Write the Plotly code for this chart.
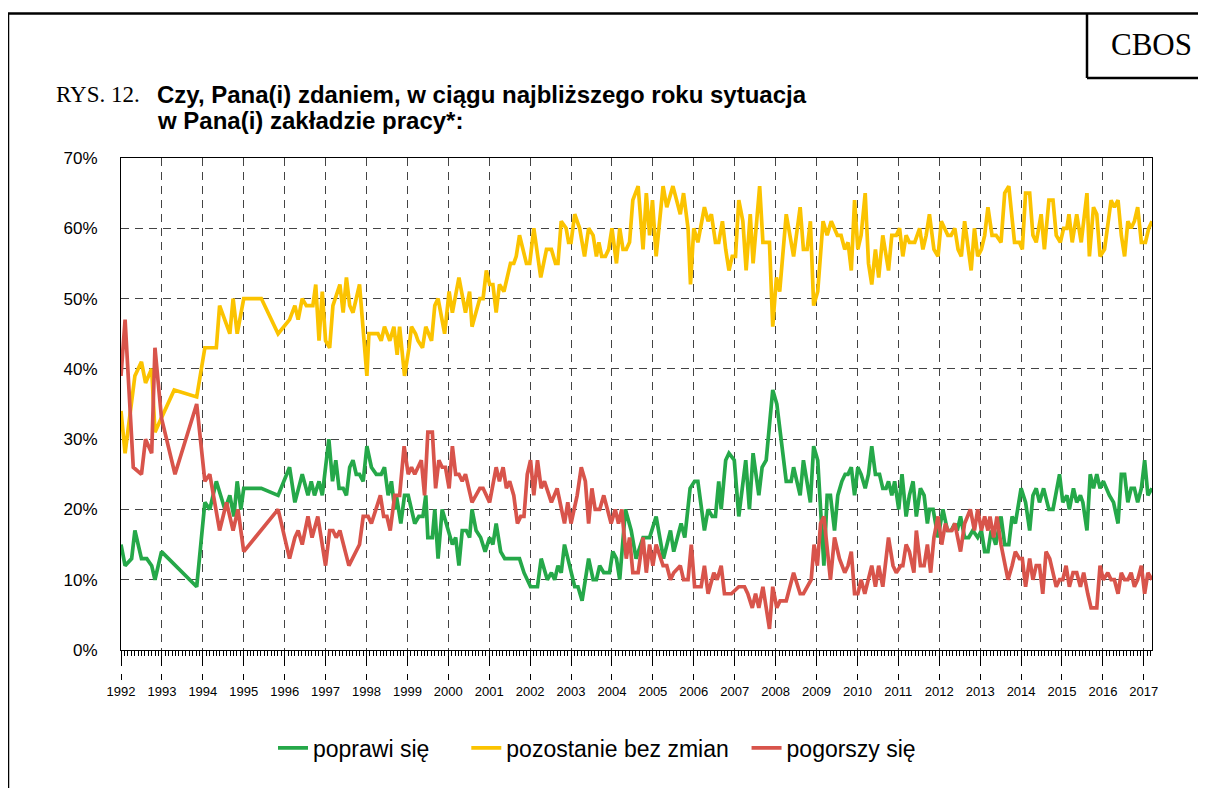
import plotly.graph_objects as go

# --- data (decimal year, % of answers) ---
poprawi_x = [1992.0, 1992.1, 1992.26, 1992.34, 1992.5, 1992.63, 1992.75, 1992.83, 1992.99, 1993.85,
             1994.05, 1994.17, 1994.33, 1994.54, 1994.66, 1994.76, 1994.84, 1994.93, 1995.0, 1995.43,
             1995.84, 1996.12, 1996.25, 1996.43, 1996.57, 1996.65, 1996.73, 1996.84, 1996.92, 1997.08,
             1997.17, 1997.25, 1997.33, 1997.43, 1997.51, 1997.59, 1997.67, 1997.75, 1997.83, 1997.92,
             1998.01, 1998.12, 1998.24, 1998.36, 1998.44, 1998.53, 1998.61, 1998.69, 1998.73, 1998.84,
             1998.93, 1999.02, 1999.18, 1999.28, 1999.38, 1999.45, 1999.5, 1999.61, 1999.67, 1999.75,
             1999.85, 1999.99, 2000.1, 2000.18, 2000.26, 2000.34, 2000.44, 2000.52, 2000.58, 2000.68,
             2000.79, 2000.9, 2001.01, 2001.09, 2001.17, 2001.28, 2001.38, 2001.74, 2001.85, 2002.01,
             2002.18, 2002.27, 2002.42, 2002.52, 2002.6, 2002.68, 2002.76, 2002.84, 2003.09, 2003.17,
             2003.27, 2003.43, 2003.54, 2003.62, 2003.7, 2003.8, 2003.94, 2004.02, 2004.11, 2004.19,
             2004.33, 2004.47, 2004.59, 2004.76, 2004.92, 2005.08, 2005.26, 2005.43, 2005.51, 2005.69,
             2005.78, 2005.91, 2006.02, 2006.1, 2006.26, 2006.35, 2006.45, 2006.53, 2006.61, 2006.67,
             2006.78, 2006.86, 2006.99, 2007.1, 2007.27, 2007.36, 2007.45, 2007.59, 2007.67, 2007.77,
             2007.93, 2008.03, 2008.26, 2008.38, 2008.44, 2008.6, 2008.68, 2008.85, 2008.93, 2009.03,
             2009.1, 2009.18, 2009.26, 2009.34, 2009.44, 2009.52, 2009.62, 2009.7, 2009.77, 2009.85,
             2009.93, 2010.01, 2010.09, 2010.19, 2010.27, 2010.35, 2010.44, 2010.54, 2010.62, 2010.7,
             2010.76, 2010.84, 2010.91, 2011.01, 2011.09, 2011.19, 2011.27, 2011.36, 2011.44, 2011.54,
             2011.63, 2011.71, 2011.76, 2011.85, 2011.97, 2012.09, 2012.2, 2012.29, 2012.38, 2012.44,
             2012.52, 2012.62, 2012.72, 2012.82, 2012.94, 2013.03, 2013.11, 2013.19, 2013.27, 2013.38,
             2013.51, 2013.6, 2013.7, 2013.78, 2013.86, 2014.0, 2014.11, 2014.21, 2014.29, 2014.37,
             2014.45, 2014.55, 2014.68, 2014.78, 2014.94, 2015.02, 2015.12, 2015.18, 2015.28, 2015.36,
             2015.45, 2015.51, 2015.61, 2015.69, 2015.77, 2015.85, 2015.93, 2016.01, 2016.16, 2016.26,
             2016.37, 2016.45, 2016.53, 2016.61, 2016.69, 2016.77, 2016.85, 2016.94, 2017.02, 2017.1,
             2017.2]
poprawi_y = [15, 12, 13, 17, 13, 13, 12, 10, 14, 9,
             21, 20, 24, 20, 22, 19, 24, 20, 23, 23,
             22, 26, 21, 25, 22, 24, 22, 24, 22, 30,
             24, 27, 23, 23, 22, 26, 27, 25, 25, 24,
             29, 26, 25, 25, 26, 22, 24, 20, 22, 18,
             22, 22, 18, 19, 19, 22, 16, 16, 20, 13,
             20, 17, 15, 16, 12, 17, 17, 16, 20, 17,
             16, 14, 16, 15, 18, 14, 13, 13, 11, 9,
             9, 13, 10, 11, 10, 12, 11, 15, 9, 9,
             7, 13, 10, 10, 12, 11, 11, 14, 13, 10,
             20, 17, 13, 16, 16, 19, 13, 17, 14, 18,
             16, 23, 24, 24, 17, 20, 19, 19, 24, 20,
             27, 28, 27, 19, 27, 20, 28, 22, 26, 27,
             37, 35, 24, 24, 26, 22, 27, 21, 29, 27,
             19, 12, 22, 22, 17, 22, 24, 25, 25, 26,
             22, 26, 25, 23, 25, 29, 25, 25, 23, 23,
             24, 22, 24, 20, 25, 19, 22, 24, 19, 23,
             22, 18, 20, 20, 16, 20, 17, 17, 18, 17,
             19, 16, 16, 17, 16, 17, 14, 14, 17, 15,
             19, 15, 15, 19, 18, 23, 21, 17, 22, 23,
             21, 23, 20, 20, 25, 21, 22, 20, 23, 21,
             22, 21, 17, 25, 23, 25, 23, 24, 22, 21,
             18, 25, 25, 21, 23, 23, 21, 23, 27, 22,
             23]

bez_zmian_x = [1992.0, 1992.1, 1992.34, 1992.5, 1992.6, 1992.75, 1992.83, 1993.3, 1993.85, 1994.05,
               1994.33, 1994.41, 1994.66, 1994.74, 1994.84, 1995.0, 1995.43, 1995.84, 1996.12, 1996.25,
               1996.33, 1996.43, 1996.53, 1996.69, 1996.76, 1996.84, 1996.92, 1997.0, 1997.1, 1997.18,
               1997.35, 1997.43, 1997.51, 1997.59, 1997.67, 1997.83, 1998.01, 1998.06, 1998.28, 1998.36,
               1998.44, 1998.57, 1998.67, 1998.75, 1998.81, 1998.93, 1999.04, 1999.1, 1999.2, 1999.26,
               1999.37, 1999.45, 1999.59, 1999.67, 1999.75, 1999.91, 2000.02, 2000.1, 2000.26, 2000.42,
               2000.52, 2000.58, 2000.77, 2000.85, 2000.93, 2001.01, 2001.09, 2001.17, 2001.25, 2001.36,
               2001.52, 2001.6, 2001.66, 2001.74, 2001.91, 2001.99, 2002.09, 2002.26, 2002.4, 2002.52,
               2002.62, 2002.68, 2002.76, 2002.88, 2002.94, 2003.0, 2003.09, 2003.21, 2003.33, 2003.43,
               2003.54, 2003.62, 2003.68, 2003.75, 2003.84, 2003.92, 2004.0, 2004.11, 2004.19, 2004.27,
               2004.35, 2004.43, 2004.51, 2004.64, 2004.76, 2004.84, 2004.92, 2004.99, 2005.08, 2005.25,
               2005.34, 2005.49, 2005.67, 2005.75, 2005.86, 2005.92, 2006.0, 2006.1, 2006.26, 2006.35,
               2006.43, 2006.53, 2006.61, 2006.7, 2006.78, 2006.86, 2006.94, 2007.02, 2007.1, 2007.2,
               2007.28, 2007.38, 2007.45, 2007.61, 2007.69, 2007.85, 2007.93, 2008.02, 2008.1, 2008.26,
               2008.44, 2008.6, 2008.68, 2008.77, 2008.85, 2008.93, 2009.03, 2009.16, 2009.26, 2009.36,
               2009.51, 2009.6, 2009.69, 2009.77, 2009.85, 2009.93, 2010.01, 2010.09, 2010.19, 2010.27,
               2010.35, 2010.44, 2010.52, 2010.62, 2010.76, 2010.84, 2010.95, 2011.03, 2011.11, 2011.19,
               2011.27, 2011.4, 2011.52, 2011.6, 2011.68, 2011.76, 2011.87, 2011.97, 2012.05, 2012.13,
               2012.21, 2012.29, 2012.38, 2012.46, 2012.54, 2012.62, 2012.72, 2012.78, 2012.86, 2012.94,
               2013.03, 2013.11, 2013.19, 2013.29, 2013.39, 2013.51, 2013.6, 2013.7, 2013.84, 2013.96,
               2014.03, 2014.11, 2014.21, 2014.29, 2014.37, 2014.49, 2014.57, 2014.68, 2014.78, 2014.86,
               2014.96, 2015.04, 2015.12, 2015.17, 2015.25, 2015.36, 2015.47, 2015.61, 2015.67, 2015.77,
               2015.85, 2015.93, 2016.04, 2016.14, 2016.2, 2016.28, 2016.37, 2016.45, 2016.53, 2016.61,
               2016.69, 2016.77, 2016.85, 2016.94, 2017.04, 2017.12, 2017.2]
bez_zmian_y = [34, 28, 39, 41, 38, 40, 31, 37, 36, 43,
               43, 49, 45, 50, 45, 50, 50, 45, 47, 49,
               47, 50, 49, 49, 52, 44, 51, 44, 43, 49,
               52, 48, 53, 49, 48, 52, 39, 45, 45, 44,
               46, 44, 46, 42, 46, 39, 43, 46, 45, 44,
               43, 46, 44, 49, 50, 45, 51, 48, 53, 48,
               51, 46, 50, 50, 54, 52, 52, 48, 52, 51,
               55, 55, 56, 59, 55, 55, 60, 53, 57, 57,
               55, 55, 61, 60, 58, 58, 62, 60, 56, 60,
               59, 56, 58, 56, 56, 57, 60, 55, 60, 57,
               57, 58, 64, 66, 57, 65, 59, 64, 56, 66,
               63, 66, 62, 65, 60, 52, 60, 58, 63, 61,
               62, 58, 58, 61, 57, 54, 56, 56, 64, 61,
               54, 62, 55, 66, 58, 58, 46, 53, 51, 62,
               56, 63, 57, 57, 61, 49, 51, 61, 59, 61,
               59, 59, 57, 58, 54, 64, 57, 59, 65, 55,
               52, 57, 53, 59, 54, 59, 59, 60, 56, 59,
               58, 58, 60, 57, 59, 62, 57, 56, 61, 60,
               59, 59, 60, 57, 56, 61, 57, 54, 60, 56,
               57, 59, 63, 59, 59, 58, 65, 66, 58, 58,
               57, 65, 65, 59, 58, 62, 57, 64, 64, 59,
               58, 60, 60, 62, 58, 62, 58, 65, 56, 63,
               62, 56, 57, 62, 64, 63, 64, 59, 56, 61,
               60, 61, 63, 58, 58, 60, 61]

pogorszy_x = [1992.0, 1992.1, 1992.3, 1992.5, 1992.6, 1992.75, 1992.83, 1992.99, 1993.32, 1993.85,
              1994.05, 1994.17, 1994.41, 1994.58, 1994.74, 1994.86, 1995.0, 1995.84, 1996.12, 1996.25,
              1996.33, 1996.43, 1996.57, 1996.67, 1996.81, 1997.0, 1997.1, 1997.18, 1997.26, 1997.35,
              1997.57, 1997.83, 1997.92, 1998.04, 1998.12, 1998.24, 1998.34, 1998.42, 1998.5, 1998.58,
              1998.69, 1998.81, 1998.92, 1999.02, 1999.1, 1999.18, 1999.34, 1999.42, 1999.5, 1999.61,
              1999.69, 1999.77, 1999.85, 1999.93, 2000.02, 2000.1, 2000.18, 2000.26, 2000.34, 2000.42,
              2000.58, 2000.77, 2000.85, 2001.01, 2001.17, 2001.25, 2001.34, 2001.42, 2001.5, 2001.6,
              2001.69, 2001.77, 2001.85, 2001.93, 2002.01, 2002.09, 2002.18, 2002.27, 2002.35, 2002.52,
              2002.66, 2002.84, 2002.92, 2003.0, 2003.15, 2003.25, 2003.35, 2003.43, 2003.51, 2003.59,
              2003.7, 2003.8, 2003.98, 2004.08, 2004.16, 2004.24, 2004.35, 2004.43, 2004.51, 2004.64,
              2004.76, 2004.84, 2004.92, 2005.0, 2005.08, 2005.25, 2005.34, 2005.43, 2005.51, 2005.67,
              2005.75, 2005.86, 2005.94, 2006.02, 2006.18, 2006.26, 2006.35, 2006.49, 2006.57, 2006.67,
              2006.75, 2006.92, 2007.1, 2007.24, 2007.32, 2007.43, 2007.51, 2007.59, 2007.69, 2007.85,
              2007.93, 2008.03, 2008.11, 2008.26, 2008.44, 2008.6, 2008.68, 2008.87, 2008.94, 2009.02,
              2009.1, 2009.18, 2009.34, 2009.44, 2009.56, 2009.69, 2009.77, 2009.85, 2009.93, 2010.01,
              2010.09, 2010.18, 2010.35, 2010.44, 2010.52, 2010.62, 2010.76, 2010.87, 2010.95, 2011.06,
              2011.11, 2011.19, 2011.27, 2011.38, 2011.44, 2011.54, 2011.63, 2011.71, 2011.79, 2011.87,
              2011.97, 2012.06, 2012.15, 2012.21, 2012.31, 2012.38, 2012.52, 2012.62, 2012.76, 2012.86,
              2012.94, 2013.03, 2013.11, 2013.19, 2013.24, 2013.33, 2013.41, 2013.51, 2013.68, 2013.78,
              2013.86, 2013.96, 2014.03, 2014.11, 2014.21, 2014.29, 2014.37, 2014.45, 2014.53, 2014.61,
              2014.7, 2014.78, 2014.86, 2014.94, 2015.02, 2015.1, 2015.18, 2015.27, 2015.36, 2015.45,
              2015.53, 2015.63, 2015.71, 2015.85, 2015.93, 2016.01, 2016.12, 2016.2, 2016.28, 2016.37,
              2016.45, 2016.53, 2016.61, 2016.69, 2016.77, 2016.85, 2016.94, 2017.02, 2017.1, 2017.2]
pogorszy_y = [39, 47, 26, 25, 30, 28, 43, 33, 25, 35,
              24, 25, 17, 21, 17, 20, 14, 20, 13, 16,
              17, 15, 19, 16, 19, 12, 17, 17, 16, 17,
              12, 15, 19, 19, 18, 20, 22, 19, 19, 17,
              22, 22, 29, 25, 26, 25, 27, 22, 31, 31,
              23, 27, 26, 26, 23, 29, 25, 25, 24, 25,
              21, 23, 23, 21, 26, 24, 26, 23, 24, 22,
              18, 19, 19, 25, 27, 22, 27, 23, 24, 21,
              23, 18, 21, 18, 22, 26, 24, 18, 23, 20,
              20, 22, 18, 20, 18, 20, 13, 16, 11, 11,
              16, 11, 15, 12, 15, 12, 12, 10, 11, 12,
              10, 10, 15, 9, 9, 12, 8, 11, 10, 12,
              8, 8, 9, 9, 8, 6, 8, 6, 9, 3,
              9, 6, 7, 7, 11, 8, 8, 10, 15, 12,
              18, 19, 10, 16, 13, 11, 12, 14, 8, 8,
              10, 8, 12, 9, 12, 9, 16, 12, 11, 12,
              12, 15, 14, 11, 17, 12, 12, 15, 11, 16,
              19, 15, 18, 17, 17, 18, 14, 18, 20, 17,
              20, 17, 19, 17, 19, 16, 19, 15, 10, 12,
              14, 13, 13, 9, 13, 10, 12, 12, 8, 14,
              13, 11, 9, 10, 10, 12, 9, 11, 11, 9,
              11, 8, 6, 6, 12, 10, 11, 10, 10, 8,
              11, 10, 10, 11, 9, 10, 12, 8, 11, 10]

lata = list(range(1992, 2018))
zakres_x = [1992, 2017.2]

nbsp = "\u00a0"
seria = [
    ("poprawi się" + nbsp * 5, poprawi_x, poprawi_y, "#25a849"),
    ("pozostanie bez zmian" + nbsp * 2, bez_zmian_x, bez_zmian_y, "#fbc300"),
    ("pogorszy się", pogorszy_x, pogorszy_y, "#d8544b"),
]

# page offset: the html body has an 8px margin
OFF = 8
W, H = 1206 - OFF, 788 - OFF
L, R, T, B = 121 - OFF, 54, 158 - OFF, 98
pw, ph = W - L - R, H - T - B


def px_x(p):
    # page pixel -> paper fraction
    return (p - OFF - L) / pw


def px_y(p):
    return (H - B - (p - OFF)) / ph


sans = "Liberation Sans, Arial, sans-serif"
serif = "Liberation Serif, Times New Roman, serif"
grid = dict(showgrid=True, gridcolor="#444444", gridwidth=1.3, griddash="8px,6px")

fig = go.Figure()
for name, xs, ys, color in seria:
    fig.add_trace(go.Scatter(x=xs, y=ys, mode="lines", name=name,
                             line=dict(color=color, width=3.7)))
# empty trace so the label axis is drawn
fig.add_trace(go.Scatter(x=[], y=[], xaxis="x2", showlegend=False, hoverinfo="skip"))

fig.update_layout(
    width=W, height=H,
    margin=dict(l=L, r=R, t=T, b=B),
    paper_bgcolor="white", plot_bgcolor="white",
    font=dict(family=sans, color="black"),
    showlegend=True,
    legend=dict(orientation="h", x=px_x(597), xanchor="center", y=px_y(748), yanchor="middle",
                font=dict(size=23, family=sans), itemwidth=30, bgcolor="rgba(0,0,0,0)"),
    xaxis=dict(range=zakres_x, tickmode="linear", tick0=1992, dtick=1, showticklabels=False,
               ticks="outside", ticklen=15, tickwidth=1, tickcolor="black",
               showline=True, linecolor="black", linewidth=1, mirror=True, zeroline=False,
               minor=dict(tick0=1992, dtick=1 / 12, ticks="outside", ticklen=5, tickwidth=1,
                          tickcolor="black", showgrid=False),
               **grid),
    xaxis2=dict(range=zakres_x, overlaying="x", anchor="free", position=px_y(673), side="bottom",
                tickmode="array", tickvals=lata, ticktext=[str(r) for r in lata],
                ticks="outside", ticklen=6, tickwidth=1, tickcolor="black",
                showline=False, showgrid=False, zeroline=False, tickfont=dict(size=13)),
    yaxis=dict(range=[0, 70], domain=[px_y(650), 1], tickmode="linear", tick0=0, dtick=10,
               ticksuffix="%", tickfont=dict(size=17), ticks="", ticklabelstandoff=19,
               showline=True, linecolor="black", linewidth=1, mirror=True, zeroline=False,
               **grid),
)

fig.add_annotation(text="RYS. 12.", xref="paper", yref="paper", x=px_x(54), y=px_y(95),
                   xanchor="left", yanchor="middle", showarrow=False,
                   font=dict(family=serif, size=23))
fig.add_annotation(text="<b>Czy, Pana(i) zdaniem, w ciągu najbliższego roku sytuacja</b>",
                   xref="paper", yref="paper", x=px_x(155), y=px_y(95),
                   xanchor="left", yanchor="middle", showarrow=False, font=dict(size=24))
fig.add_annotation(text="<b>w Pana(i) zakładzie pracy*:</b>",
                   xref="paper", yref="paper", x=px_x(155), y=px_y(120),
                   xanchor="left", yanchor="middle", showarrow=False, font=dict(size=24))
fig.add_annotation(text="CBOS", xref="paper", yref="paper", x=px_x(1151), y=px_y(44),
                   xanchor="center", yanchor="middle", showarrow=False,
                   font=dict(family=serif, size=31))

ramka = dict(color="black", width=2.5)
fig.add_shape(type="line", xref="paper", yref="paper", x0=px_x(8), x1=px_x(1215),
              y0=px_y(13.5), y1=px_y(13.5), line=ramka)
fig.add_shape(type="line", xref="paper", yref="paper", x0=px_x(8), x1=px_x(8),
              y0=px_y(13.5), y1=px_y(800), line=ramka)
fig.add_shape(type="line", xref="paper", yref="paper", x0=px_x(1087), x1=px_x(1087),
              y0=px_y(13.5), y1=px_y(78), line=ramka)
fig.add_shape(type="line", xref="paper", yref="paper", x0=px_x(1087), x1=px_x(1215),
              y0=px_y(78), y1=px_y(78), line=ramka)

fig.write_html("out.html")
